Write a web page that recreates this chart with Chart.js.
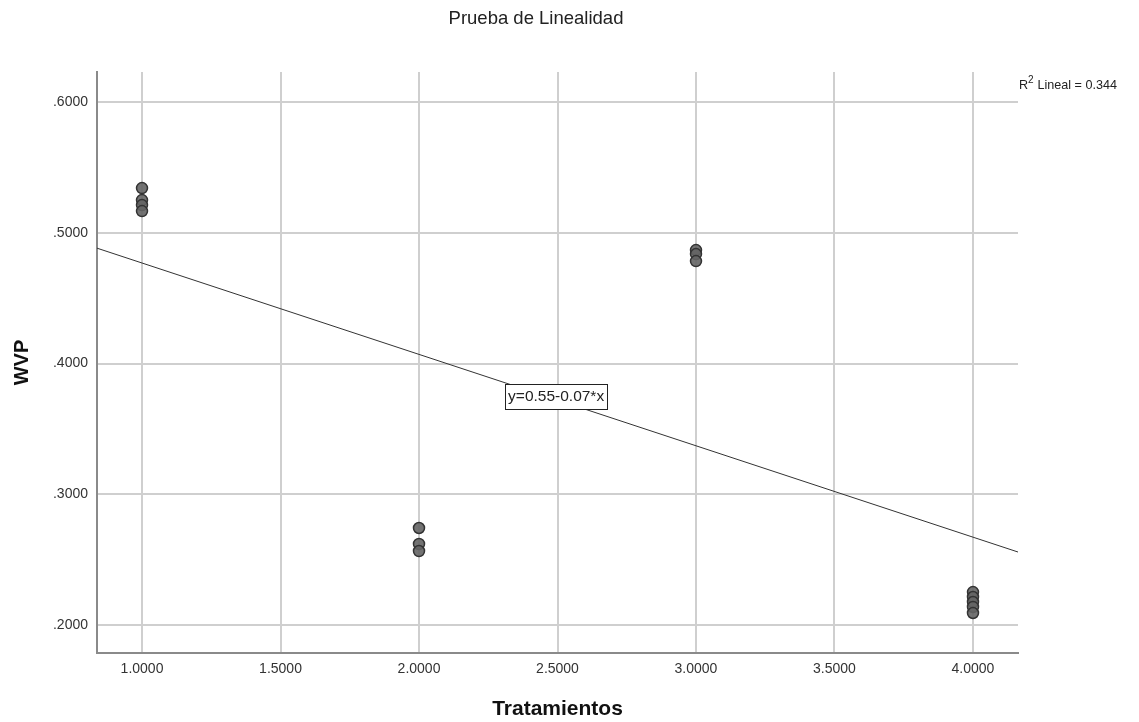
<!DOCTYPE html>
<html>
<head>
<meta charset="utf-8">
<script src="https://cdn.jsdelivr.net/npm/chart.js@4.4.1/dist/chart.umd.min.js"></script>
<style>
  html, body { margin: 0; padding: 0; background: #fff; }
  #wrap { width: 1139px; height: 722px; }
</style>
</head>
<body>
<div id="wrap"><canvas id="scatter"></canvas></div>
<script>
// Tratamientos (x) and WVP (y)
const grupo1 = [0.5342, 0.5250, 0.5212, 0.5166];
const grupo2 = [0.2742, 0.2620, 0.2566];
const grupo3 = [0.4868, 0.4837, 0.4784];
const grupo4 = [0.2252, 0.2214, 0.2176, 0.2138, 0.2092];
const tratamientos = [1, 2, 3, 4];

// fitted line shown on chart: y = 0.55 - 0.07*x
const intercepto = 0.5468;
const pendiente = -0.0699;
const xMin = 0.8375, xMax = 4.1625;
const yMin = 0.1786, yMax = 0.623;

const xTicks = [1, 1.5, 2, 2.5, 3, 3.5, 4];
const yTicks = [0.2, 0.3, 0.4, 0.5, 0.6];

const puntos = [];
[grupo1, grupo2, grupo3, grupo4].forEach((g, i) => {
  g.forEach(v => puntos.push({ x: tratamientos[i], y: v }));
});
const linea = [
  { x: xMin, y: intercepto + pendiente * xMin },
  { x: xMax, y: intercepto + pendiente * xMax }
];

const fontFam = 'Arial, "Liberation Sans", sans-serif';

const extras = {
  id: 'extras',
  afterDraw(chart) {
    const ctx = chart.ctx;
    const xs = chart.scales.x, ys = chart.scales.y;
    ctx.save();
    // title
    ctx.fillStyle = '#222';
    ctx.font = '18.5px ' + fontFam;
    ctx.textAlign = 'center';
    ctx.textBaseline = 'middle';
    ctx.fillText('Prueba de Linealidad', 536, 19);

    // R2 label
    ctx.textAlign = 'left';
    ctx.font = '12.6px ' + fontFam;
    ctx.fillText('R', 1019, 86);
    ctx.font = '10px ' + fontFam;
    ctx.fillText('2', 1028, 80);
    ctx.font = '12.6px ' + fontFam;
    ctx.fillText(' Lineal = 0.344', 1034, 86);

    // equation box
    const txt = 'y=0.55-0.07*x';
    ctx.font = '15.5px ' + fontFam;
    const w = ctx.measureText(txt).width + 6;
    const cx = xs.getPixelForValue(2.495), cy = ys.getPixelForValue(0.3751);
    ctx.fillStyle = '#fff';
    ctx.fillRect(cx - w / 2, cy - 12, w, 25);
    ctx.strokeStyle = '#222';
    ctx.lineWidth = 1;
    ctx.strokeRect(Math.round(cx - w / 2) + 0.5, Math.round(cy - 12) + 0.5, Math.round(w), 25);
    ctx.fillStyle = '#222';
    ctx.textAlign = 'center';
    ctx.fillText(txt, cx, cy + 1);
    ctx.restore();
  }
};

new Chart(document.getElementById('scatter'), {
  type: 'scatter',
  data: {
    datasets: [
      {
        label: 'linea',
        data: linea,
        showLine: true,
        borderColor: '#333',
        borderWidth: 1,
        pointRadius: 0,
        order: 2
      },
      {
        label: 'WVP',
        data: puntos,
        backgroundColor: 'rgba(100,100,100,0.9)',
        borderColor: '#333',
        borderWidth: 1.5,
        pointRadius: 5.5,
        order: 1
      }
    ]
  },
  options: {
    responsive: true,
    maintainAspectRatio: false,
    animation: false,
    layout: { padding: { left: 0, right: 121, top: 72, bottom: 0 } },
    plugins: {
      legend: { display: false },
      tooltip: { enabled: false },
      title: { display: false }
    },
    scales: {
      x: {
        type: 'linear',
        min: xMin,
        max: xMax,
        afterBuildTicks: s => { s.ticks = xTicks.map(v => ({ value: v })); },
        afterFit: s => { s.height = 69; },
        grid: { color: '#cfcfcf', lineWidth: 2, drawTicks: false },
        border: { color: '#8a8a8a', width: 2 },
        ticks: {
          padding: 8,
          color: '#333',
          font: { family: fontFam, size: 14 },
          callback: v => v.toFixed(4)
        },
        title: {
          display: true,
          text: 'Tratamientos',
          color: '#111',
          font: { family: fontFam, size: 21, weight: 'bold' },
          padding: { top: 0, bottom: 0 }
        }
      },
      y: {
        type: 'linear',
        min: yMin,
        max: yMax,
        afterBuildTicks: s => { s.ticks = yTicks.map(v => ({ value: v })); },
        afterFit: s => { s.width = 97; },
        grid: { color: '#cfcfcf', lineWidth: 2, drawTicks: false },
        border: { color: '#8a8a8a', width: 2 },
        ticks: {
          padding: 9,
          color: '#333',
          font: { family: fontFam, size: 14 },
          callback: v => v.toFixed(4).replace(/^0/, '')
        },
        title: {
          display: true,
          text: 'WVP',
          color: '#111',
          font: { family: fontFam, size: 20, weight: 'bold' },
          padding: { top: 10, bottom: 10 }
        }
      }
    }
  },
  plugins: [extras]
});
</script>
</body>
</html>
